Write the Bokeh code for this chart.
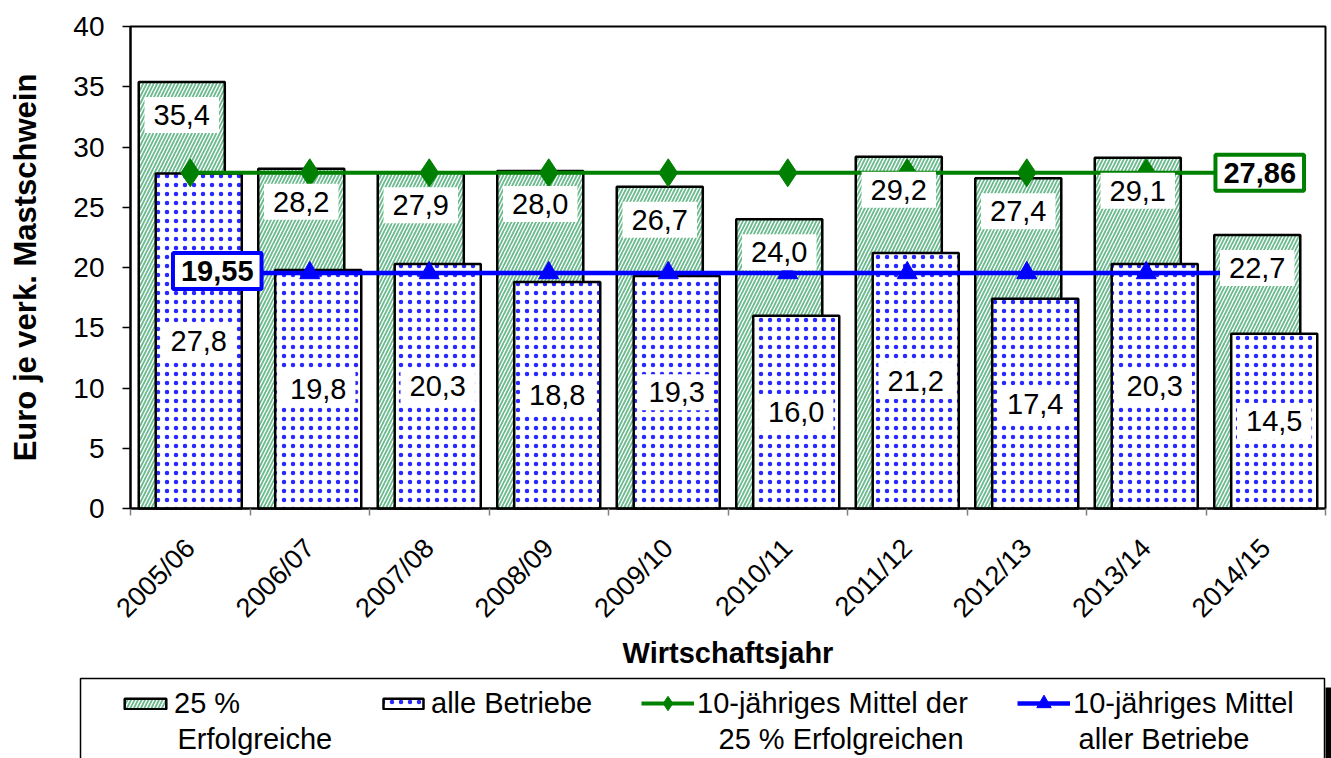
import math
from bokeh.plotting import figure
from bokeh.models import ColumnDataSource, FixedTicker, Range1d, Legend, LegendItem
from bokeh.embed import file_html
from bokeh.resources import INLINE
from bokeh.core.properties import value

# ---------------- data ----------------
years = ["2005/06", "2006/07", "2007/08", "2008/09", "2009/10",
         "2010/11", "2011/12", "2012/13", "2013/14", "2014/15"]
top25 = [35.4, 28.2, 27.9, 28.0, 26.7, 24.0, 29.2, 27.4, 29.1, 22.7]
alle = [27.8, 19.8, 20.3, 18.8, 19.3, 16.0, 21.2, 17.4, 20.3, 14.5]
mean_top25 = 27.86
mean_alle = 19.55
y_ticks = [0, 5, 10, 15, 20, 25, 30, 35, 40]
y_max = 40

series_names = ["25 %", "alle Betriebe", "10-jähriges Mittel der", "10-jähriges Mittel"]
series_second = ["Erfolgreiche", "", "25 % Erfolgreichen", "aller Betriebe"]

# ---------------- style / layout ----------------
FONT = "Liberation Sans"
GREEN_HATCH = "#6aba8e"
GREEN = "#008000"
BLUE = "#0000ff"
DOT_BLUE = "#2828ff"

W, H = 1331, 758
FRAME_L, FRAME_R, FRAME_T, FRAME_B = 130, 1325, 26, 508

n = len(years)
BAR_W = 0.72
SHIFT = 0.071
cw = (FRAME_R - FRAME_L) / n
ppu = (FRAME_B - FRAME_T) / y_max


def fmt(v, d=1):
    return f"{v:.{d}f}".replace(".", ",")


xc = [i + 0.5 for i in range(n)]
src = ColumnDataSource(dict(
    x=xc,
    x_g=[x - SHIFT for x in xc],
    x_b=[x + SHIFT for x in xc],
    top25=top25,
    alle=alle,
    alle_mid=[v / 2 for v in alle],
    lab_g=[fmt(v) for v in top25],
    lab_b=[fmt(v) for v in alle],
    m_g=[mean_top25] * n,
    m_b=[mean_alle] * n,
))

p = figure(width=W, height=H,
           x_range=Range1d(-FRAME_L / cw, n + (W - FRAME_R) / cw),
           y_range=Range1d(-(H - FRAME_B) / ppu, y_max + FRAME_T / ppu),
           output_backend="svg", toolbar_location=None, min_border=0)
p.extra_x_ranges = {"px": Range1d(0, W)}
p.extra_y_ranges = {"py": Range1d(H, 0)}
p.xgrid.visible = False
p.ygrid.visible = False
p.outline_line_color = None
p.background_fill_color = "white"

# plot-area frame
p.quad(left=[0], right=[n], bottom=[0], top=[y_max], fill_color=None,
       line_color="black", line_width=2)

bar_g = p.vbar(x="x_g", top="top25", bottom=0, width=BAR_W, source=src,
               fill_color="white", hatch_pattern="/", hatch_color=GREEN_HATCH,
               hatch_weight=1.8, hatch_scale=7, line_color="black", line_width=2.5)
bar_b = p.vbar(x="x_b", top="alle", bottom=0, width=BAR_W, source=src,
               fill_color="white", hatch_pattern="dot", hatch_color=DOT_BLUE,
               hatch_weight=1.2, hatch_scale=9, line_color="black", line_width=2.5)

lg_line = p.line(x="x", y="m_g", source=src, line_color=GREEN, line_width=4)
lg_mark = p.scatter(x="x", y="m_g", source=src, marker="diamond", size=28,
                    fill_color=GREEN, line_color=GREEN)
lb_line = p.line(x="x", y="m_b", source=src, line_color=BLUE, line_width=4.5)
lb_mark = p.scatter(x="x", y="m_b", source=src, marker="triangle", size=20,
                    fill_color=BLUE, line_color=BLUE)

common = dict(text_align="center", text_baseline="middle", text_font=value(FONT),
              text_font_size="29px", text_color="black", background_fill_color="white")
p.text(x="x_g", y="top25", text="lab_g", source=src, y_offset=33, padding=(9, 8), **common)
p.text(x="x_b", y="alle_mid", text="lab_b", source=src, padding=(9, 8), **common)

mg = ColumnDataSource(dict(x=[xc[-1]], y=[mean_top25], t=[fmt(mean_top25, 2)]))
mb = ColumnDataSource(dict(x=[xc[0]], y=[mean_alle], t=[fmt(mean_alle, 2)]))
p.text(x="x", y="y", text="t", source=mg, x_offset=-6, padding=(8, 8),
       border_line_color=GREEN, border_line_width=4, text_font_style="bold", **common)
p.text(x="x", y="y", text="t", source=mb, x_offset=27, y_offset=-2, padding=(8, 8),
       border_line_color=BLUE, border_line_width=4, text_font_style="bold", **common)

# y axis
ya = p.yaxis[0]
ya.fixed_location = 0
ya.bounds = (0, y_max)
ya.ticker = FixedTicker(ticks=y_ticks)
ya.major_label_text_font = FONT
ya.major_label_text_font_size = "28px"
ya.major_label_text_color = "black"
ya.major_tick_out = 8
ya.major_tick_in = 0
ya.major_tick_line_color = "black"
ya.major_tick_line_width = 1.5
ya.minor_tick_line_color = None
ya.major_label_standoff = 18
ya.axis_line_width = 2
ya.axis_label = "Euro je verk. Mastschwein"
ya.axis_label_text_font = FONT
ya.axis_label_text_font_style = "bold"
ya.axis_label_text_font_size = "31px"
ya.axis_label_text_color = "black"
ya.axis_label_standoff = 27

# x axis
xa = p.xaxis[0]
xa.fixed_location = 0
xa.bounds = (0, n)
xa.ticker = FixedTicker(ticks=xc, minor_ticks=list(range(n + 1)))
xa.major_label_overrides = {x: y for x, y in zip(xc, years)}
xa.major_label_orientation = math.pi / 4
xa.major_label_text_font = FONT
xa.major_label_text_font_size = "27px"
xa.major_label_text_color = "black"
xa.major_tick_line_color = None
xa.major_tick_out = 0
xa.major_tick_in = 0
xa.minor_tick_out = 7
xa.minor_tick_in = 0
xa.minor_tick_line_color = "#808080"
xa.minor_tick_line_width = 1.5
xa.major_label_standoff = 28
xa.axis_line_width = 2
xa.axis_label = "Wirtschaftsjahr"
xa.axis_label_text_font = FONT
xa.axis_label_text_font_style = "bold"
xa.axis_label_text_font_size = "29px"
xa.axis_label_text_color = "black"
xa.axis_label_standoff = 0

# ---------------- legend ----------------
p.quad(left=[80], right=[1324], top=[678], bottom=[H + 40], fill_color="white",
       line_color="black", line_width=1.5, x_range_name="px", y_range_name="py")
p.quad(left=[1325], right=[W], top=[687], bottom=[H + 40], fill_color="black",
       line_color=None, x_range_name="px", y_range_name="py")

ROW_H = 36
ROW_Y = 703
legend_specs = [
    (series_names[0], [bar_g], 119, 52, 13),
    (series_names[1], [bar_b], 378, 50, 13),
    (series_names[2], [lg_line, lg_mark], 641, 53, 36),
    (series_names[3], [lb_line, lb_mark], 1017, 53, 36),
]
for label, rends, lx, gw, gh in legend_specs:
    lgd = Legend(items=[LegendItem(label=label, renderers=rends)],
                 location=(lx, H - ROW_Y - ROW_H / 2),
                 orientation="horizontal", glyph_width=gw, glyph_height=gh,
                 label_height=ROW_H, label_standoff=3, padding=0, margin=0, spacing=0,
                 border_line_color=None, background_fill_alpha=0,
                 label_text_font=FONT, label_text_font_size="29px",
                 label_text_color="black")
    p.add_layout(lgd, "center")

sec = ColumnDataSource(dict(x=[177, 718, 1078], y=[738, 738, 738],
                            t=[series_second[0], series_second[2], series_second[3]]))
p.text(x="x", y="y", text="t", source=sec, text_align="left", text_baseline="middle",
       text_font=value(FONT), text_font_size="29px", text_color="black",
       x_range_name="px", y_range_name="py")

open("out.html", "w").write(file_html(p, INLINE))
